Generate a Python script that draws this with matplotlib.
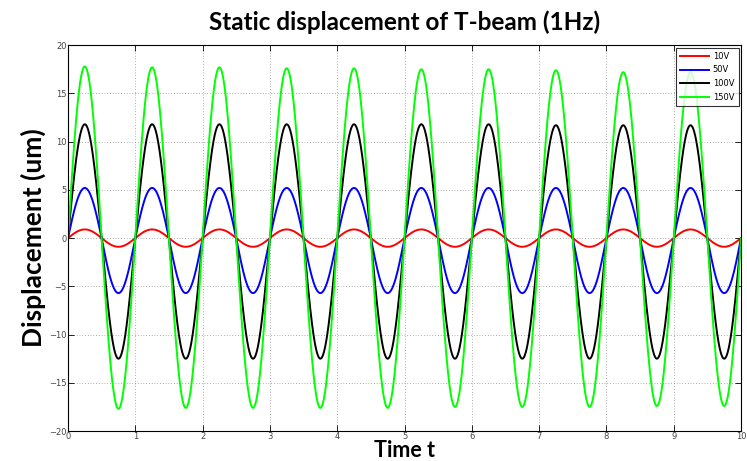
import numpy as np
import matplotlib
matplotlib.use("Agg")
import matplotlib.pyplot as plt

# peak / trough of each 1 s cycle (um)
labels = ["10V", "50V", "100V", "150V"]
colors = ["#ff0000", "#0000ff", "#000000", "#00ff00"]
peaks = {
    "10V":  [0.9, 0.9, 0.9, 0.9, 0.9, 0.9, 0.9, 0.9, 0.9, 0.9],
    "50V":  [5.2, 5.2, 5.2, 5.2, 5.2, 5.2, 5.2, 5.2, 5.2, 5.2],
    "100V": [11.8, 11.8, 11.8, 11.8, 11.8, 11.8, 11.8, 11.7, 11.7, 11.7],
    "150V": [17.8, 17.7, 17.7, 17.6, 17.6, 17.5, 17.5, 17.4, 17.2, 17.2],
}
troughs = {
    "10V":  [-0.9, -0.9, -0.9, -0.9, -0.9, -0.9, -0.9, -0.9, -0.9, -0.9],
    "50V":  [-5.7, -5.7, -5.7, -5.7, -5.7, -5.7, -5.7, -5.7, -5.7, -5.7],
    "100V": [-12.5, -12.5, -12.5, -12.5, -12.5, -12.5, -12.5, -12.5, -12.5, -12.5],
    "150V": [-17.7, -17.6, -17.6, -17.6, -17.6, -17.5, -17.5, -17.5, -17.4, -17.4],
}
freq = 1.0
t_end = 10


def waveform(t, pk, tr):
    # 1 Hz oscillation, each half cycle scaled by its read peak/trough
    s = np.sin(2 * np.pi * freq * t)
    k = np.clip(np.floor(t * freq).astype(int), 0, len(pk) - 1)
    return np.where(s >= 0, s * np.array(pk)[k], -s * np.array(tr)[k])


t = np.linspace(0, t_end, 4001)

fig = plt.figure(figsize=(7.47, 4.61), dpi=100)
ax = fig.add_axes([0.091, 0.065, 0.901, 0.837])
for name, c in zip(labels, colors):
    ax.plot(t, waveform(t, peaks[name], troughs[name]), color=c, lw=1.4, label=name)

ax.set_xlim(0, 10)
ax.set_ylim(-20, 20)
ax.set_xticks(np.arange(0, 11, 1))
ax.set_yticks(np.arange(-20, 21, 5))
ax.tick_params(labelsize=6, length=4, width=0.6, direction="in", top=True, right=True,
               labelcolor="#444444", pad=1)
ax.grid(True, linestyle=(0, (1, 3)), color="#666666", lw=0.5)
for sp in ax.spines.values():
    sp.set_linewidth(0.8)

ax.set_title("Static displacement of T-beam (1Hz)", fontsize=17.5, fontweight="bold",
             family="Lato", pad=11)
# x label sits right at the bottom edge, as in the original
fig.text(0.5415, 0.009, "Time t", fontsize=15.5, fontweight="bold", family="Lato",
         ha="center", va="baseline")
ax.set_ylabel("Displacement (um)", fontsize=19, fontweight="bold", family="Lato", labelpad=2)

leg = ax.legend(loc="upper right", fontsize=6, frameon=True, fancybox=False,
                edgecolor="black", handlelength=3.4, borderpad=0.5, labelspacing=0.55,
                borderaxespad=0.3, handletextpad=0.5)
leg.get_frame().set_linewidth(0.8)

fig.savefig("out.png", dpi=100)
